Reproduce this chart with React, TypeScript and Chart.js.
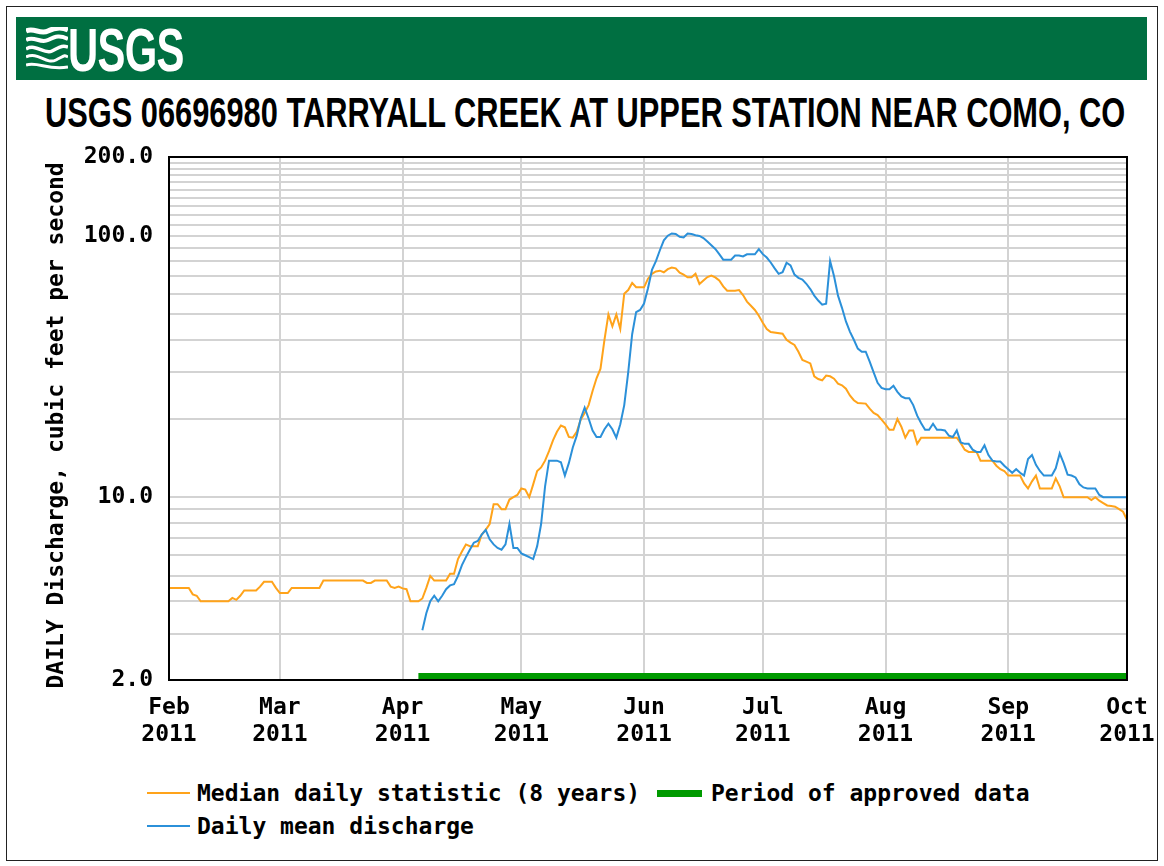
import React, { useEffect, useLayoutEffect, useRef } from 'react';
import { Chart, registerables } from 'chart.js';

Chart.register(...registerables);

const MONO = "'DejaVu Sans Mono', 'Liberation Mono', monospace";

// ---- axis definitions ----
const monthDays = [0, 28, 59, 89, 120, 150, 181, 212, 242];
const monthNames = ['Feb', 'Mar', 'Apr', 'May', 'Jun', 'Jul', 'Aug', 'Sep', 'Oct'];
const yearLabel = '2011';
const yGridValues = [2, 3, 4, 5, 6, 7, 8, 9, 10, 20, 30, 40, 50, 60, 70, 80, 90, 100, 110, 120, 130, 140, 150, 160, 170, 180, 190, 200];
const yLabelValues = [2, 10, 100, 200];
const yLabelTexts = ['2.0', '10.0', '100.0', '200.0'];

// ---- median daily statistic (days since Feb 1, 2011) ----
const medianDays = [0, 5, 6, 7, 8, 15, 16, 17, 18, 19, 22, 23, 24, 26, 27, 28, 30, 31, 38, 39, 49, 50, 51, 52, 55, 56, 57, 58, 59, 60, 61, 63, 64, 65, 66, 67, 70, 71, 72, 73, 74, 75, 76, 78, 79, 80, 81, 82, 83, 84, 85, 86, 87, 88, 89, 90, 91, 92, 93, 94, 95, 96, 97, 98, 99, 100, 101, 102, 103, 104, 105, 106, 107, 108, 109, 110, 111, 112, 113, 114, 115, 116, 117, 118, 120, 121, 122, 123, 124, 125, 126, 127, 128, 129, 130, 131, 132, 133, 134, 135, 136, 137, 138, 139, 140, 141, 143, 144, 145, 146, 147, 148, 149, 150, 151, 152, 155, 156, 157, 158, 159, 160, 161, 162, 163, 164, 165, 166, 167, 168, 169, 170, 171, 172, 173, 174, 176, 177, 178, 179, 180, 181, 182, 183, 184, 185, 186, 187, 188, 189, 190, 199, 200, 201, 202, 204, 205, 208, 209, 210, 211, 212, 215, 216, 217, 218, 219, 220, 223, 224, 225, 226, 232, 233, 234, 235, 236, 237, 238, 239, 240, 241, 242];
const medianCfs = [4.5, 4.5, 4.25, 4.2, 4.0, 4.0, 4.12, 4.05, 4.2, 4.4, 4.4, 4.55, 4.75, 4.75, 4.5, 4.3, 4.3, 4.5, 4.5, 4.8, 4.8, 4.7, 4.7, 4.8, 4.8, 4.55, 4.5, 4.55, 4.48, 4.45, 4.0, 4.0, 4.1, 4.5, 5.0, 4.8, 4.8, 5.1, 5.1, 5.8, 6.2, 6.6, 6.5, 6.5, 7.2, 7.5, 7.9, 9.4, 9.4, 9.0, 9.0, 9.8, 10.0, 10.2, 10.8, 10.7, 10.0, 11.2, 12.6, 13.0, 13.8, 15.0, 16.5, 17.8, 18.8, 18.5, 17.0, 16.9, 17.8, 19.8, 21.0, 22.5, 25.5, 28.5, 31, 40, 50, 45, 50, 44, 60, 62, 66, 63.5, 63.5, 68.5, 71.5, 73, 73.5, 72.5, 74.5, 75.5, 75, 72.2, 71, 69.3, 69.3, 71.5, 65.4, 67.4, 69.5, 70.4, 69.3, 67.4, 64, 61.6, 61.6, 62, 59.3, 56, 54, 52, 49.4, 46.5, 44, 42.8, 42.2, 40, 39, 38.2, 36, 33.5, 33, 32.5, 29, 28.3, 28, 29.2, 29, 28.4, 27.2, 26.8, 26, 24.5, 23.5, 22.9, 22.8, 21.8, 21, 20.6, 19.8, 19, 18.1, 18.1, 19.9, 18.6, 16.9, 18.0, 18.0, 16.0, 16.9, 16.9, 16.1, 15.2, 14.9, 14.9, 13.8, 13.8, 13.2, 12.8, 12.6, 12.1, 12.1, 11.3, 10.8, 11.5, 12.1, 10.8, 10.8, 11.8, 11.0, 10.0, 10.0, 9.75, 10.0, 9.7, 9.5, 9.3, 9.25, 9.2, 9.0, 8.8, 8.2];

// ---- daily mean discharge ----
const dailyDays = [64, 65, 66, 67, 68, 69, 70, 71, 72, 73, 74, 75, 76, 77, 78, 79, 80, 81, 82, 83, 84, 85, 86, 87, 88, 89, 90, 91, 92, 93, 94, 95, 96, 97, 98, 99, 100, 101, 102, 103, 104, 105, 106, 107, 108, 109, 110, 111, 112, 113, 114, 115, 116, 117, 118, 119, 120, 121, 122, 123, 124, 125, 126, 127, 128, 129, 130, 131, 132, 133, 134, 135, 136, 137, 138, 139, 140, 141, 142, 143, 144, 145, 146, 147, 148, 149, 150, 151, 152, 153, 154, 155, 156, 157, 158, 159, 160, 161, 162, 163, 164, 165, 166, 167, 168, 169, 170, 171, 172, 173, 174, 175, 176, 177, 178, 179, 180, 181, 182, 183, 184, 185, 186, 187, 188, 189, 190, 191, 192, 193, 194, 195, 196, 197, 198, 199, 200, 201, 202, 203, 204, 205, 206, 207, 208, 209, 210, 211, 212, 213, 214, 215, 216, 217, 218, 219, 220, 221, 222, 223, 224, 225, 226, 227, 228, 229, 230, 231, 232, 233, 234, 235, 236, 242];
const dailyCfs = [3.1, 3.6, 4.0, 4.2, 4.0, 4.2, 4.45, 4.6, 4.65, 5.0, 5.5, 5.9, 6.3, 6.7, 6.8, 7.2, 7.5, 6.9, 6.6, 6.4, 6.3, 6.6, 7.9, 6.4, 6.4, 6.1, 6.0, 5.9, 5.8, 6.5, 7.9, 11.0, 13.8, 13.8, 13.8, 13.6, 12.1, 13.5, 15.5, 17.2, 20.0, 22.0, 20.0, 18.0, 17.0, 17.0, 18.2, 19.1, 18.2, 16.9, 19.0, 22.5, 30, 42, 51, 52, 55, 63, 74, 80, 88, 96, 100, 102, 101.5, 99, 98.5, 102, 101.5, 100.5, 99.8, 98, 95, 92, 89, 85, 81, 81, 81, 84, 84, 83.3, 84.9, 84.9, 84.9, 88.9, 85, 82.5, 79, 75, 71.5, 72.5, 78.8, 77, 71, 69, 68, 65.5, 62.5, 59, 56.5, 54.5, 55, 80, 70, 59, 53, 47, 43, 40, 37, 36, 36, 33, 30, 27.4, 26.2, 25.9, 25.9, 26.7, 25.3, 24.3, 23.9, 23.9, 22.5, 20.5, 19.2, 18.1, 18.1, 19.1, 18.1, 18.1, 18.0, 17.2, 17.0, 18.0, 16.2, 16.0, 16.0, 15.2, 14.9, 14.9, 15.8, 14.5, 13.8, 13.7, 13.7, 13.2, 12.8, 12.4, 12.8, 12.4, 12.1, 14.0, 14.5, 13.3, 12.6, 12.1, 12.1, 12.1, 12.9, 14.7, 13.5, 12.2, 12.1, 11.9, 11.2, 10.9, 10.8, 10.8, 10.8, 10.2, 10.0, 10.0];

// ---- period of approved data ----
const approvedDays = [63, 242];
const approvedLevel = 2.07;

const ORANGE = '#ffa31a';
const BLUE = '#2b90d9';
const GREEN = '#009a00';

function FitText({ text, width, style }: { text: string; width: number; style: React.CSSProperties }) {
  const ref = useRef<HTMLSpanElement>(null);
  useLayoutEffect(() => {
    const fit = () => {
      const el = ref.current;
      if (!el) return;
      const w = el.offsetWidth;
      if (w > 0) el.style.transform = `scaleX(${width / w})`;
    };
    fit();
    if ((document as any).fonts && (document as any).fonts.ready) (document as any).fonts.ready.then(fit);
  }, [text, width]);
  return (
    <span ref={ref} style={{ position: 'absolute', whiteSpace: 'nowrap', transformOrigin: '0 0', display: 'inline-block', ...style }}>
      {text}
    </span>
  );
}

const framePlugin = {
  id: 'plotFrame',
  afterDatasetsDraw(chart: any) {
    const { ctx, chartArea: a } = chart;
    ctx.save();
    ctx.strokeStyle = '#000';
    ctx.lineWidth = 2;
    ctx.strokeRect(a.left, a.top, a.right - a.left, a.bottom - a.top);
    ctx.restore();
  },
};

export default function App() {
  const canvasRef = useRef<HTMLCanvasElement>(null);

  useEffect(() => {
    const canvas = canvasRef.current;
    if (!canvas) return;
    const tickFont = { family: MONO, size: 23, weight: 'bold' as const, lineHeight: 1.2 };
    const chart = new Chart(canvas, {
      type: 'line',
      data: {
        datasets: [
          {
            label: 'Daily mean discharge',
            data: dailyDays.map((d, i) => ({ x: d, y: dailyCfs[i] })),
            borderColor: BLUE,
            borderWidth: 2,
            pointRadius: 0,
            tension: 0,
            fill: false,
          },
          {
            label: 'Median daily statistic (8 years)',
            data: medianDays.map((d, i) => ({ x: d, y: medianCfs[i] })),
            borderColor: ORANGE,
            borderWidth: 2,
            pointRadius: 0,
            tension: 0,
            fill: false,
          },
          {
            label: 'Period of approved data',
            data: approvedDays.map((d) => ({ x: d, y: approvedLevel })),
            borderColor: GREEN,
            borderWidth: 6,
            borderCapStyle: 'butt',
            pointRadius: 0,
            tension: 0,
            fill: false,
          },
        ],
      },
      options: {
        animation: false,
        responsive: false,
        maintainAspectRatio: false,
        devicePixelRatio: 1,
        layout: { padding: { left: 0, right: 37, top: 17, bottom: 0 } },
        plugins: { legend: { display: false }, tooltip: { enabled: false } },
        scales: {
          x: {
            type: 'linear',
            min: 0,
            max: 242,
            afterBuildTicks: (s: any) => {
              s.ticks = monthDays.map((v) => ({ value: v }));
            },
            afterFit: (s: any) => {
              s.height = 90;
              s.paddingLeft = 0;
              s.paddingRight = 0;
            },
            grid: { color: '#d3d3d3', lineWidth: 2, drawTicks: false },
            border: { display: false },
            ticks: {
              autoSkip: false,
              maxRotation: 0,
              minRotation: 0,
              padding: 14,
              color: '#000',
              font: tickFont,
              callback: (v: any) => {
                const i = monthDays.indexOf(Number(v));
                return i >= 0 ? [monthNames[i], yearLabel] : '';
              },
            },
          },
          y: {
            type: 'logarithmic',
            min: 2,
            max: 200,
            afterBuildTicks: (s: any) => {
              s.ticks = yGridValues.map((v) => ({ value: v }));
            },
            afterFit: (s: any) => {
              s.width = 169;
              s.paddingTop = 0;
              s.paddingBottom = 0;
            },
            grid: { color: '#d3d3d3', lineWidth: 2, drawTicks: false },
            border: { display: false },
            title: {
              display: true,
              text: 'DAILY Discharge, cubic feet per second ',
              color: '#000',
              font: { family: MONO, size: 23, weight: 'bold', lineHeight: 1.2 },
              padding: { top: 43, bottom: 0 },
            },
            ticks: {
              autoSkip: false,
              padding: 16,
              color: '#000',
              font: { family: MONO, size: 23, weight: 'bold', lineHeight: 1.0 },
              callback: (v: any) => {
                const i = yLabelValues.indexOf(Number(v));
                return i >= 0 ? yLabelTexts[i] : '';
              },
            },
          },
        },
      },
      plugins: [framePlugin],
    } as any);
    return () => chart.destroy();
  }, []);

  const legendText: React.CSSProperties = {
    position: 'absolute',
    fontFamily: MONO,
    fontWeight: 'bold',
    fontSize: 23,
    lineHeight: '24px',
    color: '#000',
    whiteSpace: 'nowrap',
  };

  return (
    <div style={{ position: 'absolute', left: 0, top: 0, width: 1164, height: 866, background: '#fff', overflow: 'hidden' }}>
      <div style={{ position: 'absolute', left: 6, top: 6, width: 1152, height: 855, border: '1px solid #222', boxSizing: 'border-box' }} />
      {/* header bar */}
      <div style={{ position: 'absolute', left: 16, top: 17, width: 1131, height: 63, background: '#006f41' }}>
        <svg width={42} height={44} viewBox="0 0 42 44" style={{ position: 'absolute', left: 10, top: 10 }}>
          <g fill="none" stroke="#fff" strokeLinecap="butt">
            <path d="M0 4 C8 0 14 8 22 4 S36 0 42 3" strokeWidth={5} />
            <path d="M0 13 C8 8 14 17 22 13 S34 8 42 12" strokeWidth={4} />
            <path d="M0 22 C10 16 18 28 26 24 S36 18 42 20" strokeWidth={3.5} />
            <path d="M0 30 C12 24 20 38 30 33 S38 28 42 30" strokeWidth={3} />
            <path d="M0 38 C12 34 22 44 42 40" strokeWidth={3} />
          </g>
        </svg>
        <FitText
          text="USGS"
          width={116}
          style={{ left: 52, top: 2, fontFamily: "'Liberation Sans Narrow', 'Liberation Sans', Arial, sans-serif", fontWeight: 'bold', fontSize: 62, lineHeight: '62px', color: '#fff', letterSpacing: -1 }}
        />
      </div>
      {/* title */}
      <FitText
        text="USGS 06696980 TARRYALL CREEK AT UPPER STATION NEAR COMO, CO"
        width={1080}
        style={{ left: 45, top: 92, fontFamily: "'Liberation Sans Narrow', 'Liberation Sans', Arial, sans-serif", fontWeight: 'bold', fontSize: 42, lineHeight: '42px', color: '#000' }}
      />
      <canvas ref={canvasRef} width={1164} height={630} style={{ position: 'absolute', left: 0, top: 140, width: 1164, height: 630 }} />
      {/* legend */}
      <div style={{ position: 'absolute', left: 147, top: 792, width: 43, height: 2, background: ORANGE }} />
      <div style={{ ...legendText, left: 197, top: 781 }}>Median daily statistic (8 years)</div>
      <div style={{ position: 'absolute', left: 657, top: 790, width: 45, height: 7, background: GREEN }} />
      <div style={{ ...legendText, left: 711, top: 781 }}>Period of approved data</div>
      <div style={{ position: 'absolute', left: 147, top: 825, width: 43, height: 2, background: BLUE }} />
      <div style={{ ...legendText, left: 197, top: 814 }}>Daily mean discharge</div>
    </div>
  );
}
